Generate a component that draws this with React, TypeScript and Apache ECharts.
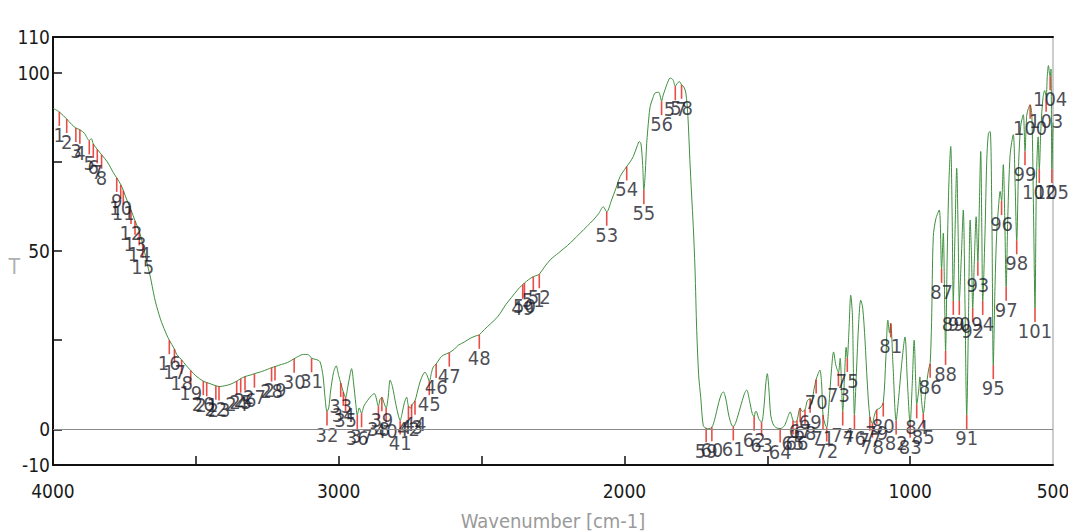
import React, { useEffect, useRef } from "react";
import * as echarts from "echarts";

// ---- Spectrum trace, [wavenumber (cm-1), T (%)] ----
const spectrumOH: [number, number][] = [
  [4000, 90], [3978, 89], [3952, 87], [3935, 85.5], [3920, 84.5], [3906, 84], [3890, 83],
  [3873, 81], [3866, 81.5], [3859, 80], [3845, 78.5], [3830, 77], [3810, 75], [3789, 72],
  [3777, 70.5], [3762, 68.5], [3754, 67], [3740, 64], [3727, 61.5], [3713, 58.5], [3698, 55.5],
  [3686, 52], [3672, 47], [3660, 43], [3645, 37], [3637, 34.4], [3620, 30], [3602, 26.5],
  [3593, 25], [3575, 22.5], [3567, 21], [3550, 19.5], [3535, 18], [3518, 16.5], [3500, 15],
  [3474, 13.5], [3450, 12.8], [3430, 12.2], [3416, 12], [3400, 12.2], [3380, 12.6], [3357, 13.5],
  [3343, 14.2], [3328, 14.8], [3310, 15.2], [3295, 15.6], [3270, 16.2], [3250, 16.8], [3235, 17.3],
  [3223, 17.6], [3200, 18.2], [3180, 18.7], [3156, 19.8], [3140, 20.5], [3124, 21], [3110, 21],
  [3100, 20.5], [3095, 19.9], [3080, 19.6], [3066, 19],
];
const spectrumCH: [number, number][] = [
  [3055, 15], [3048, 9], [3041, 5], [3035, 6], [3028, 11], [3018, 16], [3009, 17.8], [3000, 15],
  [2993, 13], [2984, 10.5], [2976, 9], [2968, 12], [2960, 15.5], [2955, 17], [2948, 13], [2940, 7],
  [2935, 4], [2928, 6], [2920, 4.5], [2912, 6.5], [2900, 8], [2885, 9.5], [2875, 10], [2861, 6.5],
  [2855, 8.5], [2849, 9], [2842, 7.5], [2834, 6], [2827, 9], [2820, 13.8], [2812, 12], [2800, 7],
  [2790, 3.5], [2785, 2.5], [2778, 4.5], [2770, 7.5], [2762, 9], [2756, 6.5], [2748, 6], [2742, 7],
  [2733, 8], [2720, 12], [2710, 14.5], [2698, 16], [2690, 15], [2683, 13.5], [2675, 16], [2669, 17.5],
  [2659, 18.3], [2645, 20], [2634, 20.8], [2613, 21.5], [2595, 22.5], [2581, 23.6],
];
const spectrumMid: [number, number][] = [
  [2560, 24.5], [2540, 25.5], [2520, 26.2], [2508, 26.5], [2490, 28], [2470, 29.5], [2450, 31],
  [2435, 32.5], [2415, 35], [2395, 37], [2375, 39], [2360, 40.3], [2350, 41], [2335, 42], [2319, 42.8],
  [2305, 43.2], [2298, 43.5], [2280, 45.5], [2260, 47.5], [2230, 49.5], [2200, 51.5], [2180, 53],
  [2155, 55], [2130, 57], [2109, 58.7], [2090, 60.5], [2074, 62.4], [2062, 61], [2045, 64.3],
  [2030, 67.5], [2015, 70.9], [2000, 72.8], [1992, 73.7], [1980, 75], [1969, 76.5], [1955, 79.5],
  [1948, 80.7], [1942, 80], [1936, 74], [1932, 67], [1927, 72], [1922, 80.2], [1915, 87], [1910, 90.5],
  [1900, 93], [1893, 94.3], [1880, 94.5], [1875, 93.5], [1870, 92], [1865, 93.5], [1858, 95.2],
  [1850, 97], [1840, 98.5], [1830, 98], [1822, 96.2], [1815, 97], [1808, 97.5], [1800, 96.6],
  [1792, 96], [1785, 94.3], [1778, 88], [1771, 75.6], [1765, 66], [1759, 56.8], [1753, 45],
  [1747, 27.8], [1740, 15], [1733, 9], [1724, 1],
];
const spectrumFingerprint: [number, number][] = [
  [1714, 0.3], [1705, 0.2], [1694, 0.6], [1685, 2.5], [1670, 7.5], [1660, 10], [1654, 10.5],
  [1645, 8.5], [1635, 4], [1625, 1.2], [1619, 0.8], [1610, 2], [1595, 6], [1580, 10], [1572, 11],
  [1562, 8], [1553, 4.5], [1546, 3.5], [1541, 5], [1537, 4.9], [1530, 3], [1520, 2], [1512, 6],
  [1505, 13], [1500, 15.6], [1495, 12], [1488, 4], [1480, 1.5], [1470, 0.5], [1455, 0.2], [1440, 1],
  [1430, 3], [1420, 4.9], [1410, 2.5], [1403, 2], [1396, 2.5], [1385, 6], [1378, 5], [1368, 5.5],
  [1360, 8], [1350, 8.6], [1345, 7], [1337, 11], [1329, 14], [1322, 15.6], [1316, 16.6], [1310, 13],
  [1305, 4], [1298, 1.5], [1292, 0.5], [1285, 6], [1275, 17], [1268, 21.7], [1260, 18], [1251, 16],
  [1245, 19.9], [1240, 12], [1236, 5], [1230, 14], [1224, 23], [1220, 20], [1214, 28], [1208, 37.6],
  [1202, 32], [1195, 4], [1188, 16], [1180, 30], [1173, 36.2], [1166, 34], [1158, 25], [1150, 13],
  [1141, 3.5], [1132, 1.6], [1125, 4], [1117, 5.5], [1105, 6], [1094, 7.5], [1085, 20], [1078, 30.6],
  [1072, 27], [1068, 29.7], [1060, 18], [1049, 2.5], [1040, 9], [1030, 18], [1018, 25.9], [1010, 14],
  [1000, 1.6], [993, 12], [986, 25], [980, 12], [977, 7], [970, 11], [966, 14.7], [960, 8], [954, 4.4],
  [945, 11], [935, 17], [930, 18.4],
];
const spectrumLow: [number, number][] = [
  [925, 30], [919, 54], [910, 59], [898, 61.5], [890, 45], [884, 55], [880, 40], [876, 22], [870, 50],
  [864, 70], [858, 79.3], [853, 60], [849, 36], [843, 55], [837, 73.2], [832, 55], [828, 36], [820, 50],
  [814, 61.5], [808, 35], [802, 4], [796, 30], [790, 58.7], [785, 48], [781, 34], [775, 48], [769, 59.6],
  [763, 47], [758, 62], [753, 77.9], [749, 55], [746, 36], [738, 55], [732, 75], [726, 83], [720, 83.5],
  [714, 60], [709, 18], [703, 40], [697, 55], [690, 63], [685, 66.7], [680, 64], [674, 74.2], [669, 60],
  [664, 40], [658, 60], [650, 77], [639, 82.6], [633, 70], [627, 53], [620, 75], [613, 85], [604, 88.2],
  [598, 78], [592, 88], [586, 90], [580, 91], [574, 88], [568, 60], [563, 34], [558, 70], [552, 82],
  [548, 73], [542, 85], [535, 93], [529, 95], [524, 93], [520, 99], [516, 102], [512, 99.5], [510, 99],
  [507, 101], [504, 73], [500, 86],
];

// ---- Peak picks (peak number = position + 1) ----
const peakWavenumbers: number[] = [
  3978, 3952, 3920, 3906, 3873, 3859, 3845, 3830, 3777, 3763, 3754, 3727, 3713, 3698, 3686,
  3593, 3575, 3550, 3518, 3474, 3462, 3430, 3419, 3357, 3343, 3328, 3295, 3235, 3223, 3156, 3095,
  3041, 2993, 2984, 2976, 2935, 2920, 2861, 2849, 2834, 2785, 2756, 2745, 2733, 2683, 2659, 2613,
  2508, 2356, 2350, 2319, 2298, 2062, 1992, 1932, 1870, 1822, 1800,
  1714, 1694, 1619, 1546, 1520, 1455, 1410, 1396, 1385, 1368, 1350, 1329, 1305, 1292, 1251, 1236,
  1220, 1195, 1141, 1132, 1117, 1094, 1068, 1049, 1000, 977, 954, 930,
  890, 876, 849, 828, 802, 781, 763, 746, 709, 680, 664, 627, 598, 580, 563, 548, 524, 510, 504,
];
const peakTransmittance: number[] = [
  89, 87, 84.5, 84, 81, 80, 78.5, 77, 70.5, 68.5, 67, 61.5, 58.5, 55.5, 52,
  25, 22.5, 19.5, 16.5, 13.5, 13.2, 12.2, 12, 13.5, 14.2, 14.8, 15.6, 17.3, 17.6, 19.8, 19.9,
  5, 13, 10.5, 9, 4, 4.5, 6.5, 9, 6, 2.5, 6.5, 7, 8, 13.5, 18.3, 21.5,
  26.5, 40.5, 41, 42.8, 43.5, 61, 73.7, 67, 92, 96.2, 96.6,
  0.3, 0.6, 0.8, 3.5, 2, 0.2, 2.5, 2.5, 6, 5.5, 8.6, 14, 4, 0.5, 16, 5,
  20, 4, 3.5, 1.6, 5.5, 7.5, 29.7, 2.5, 1.6, 7, 4.4, 18.4,
  45, 22, 36, 36, 4, 34, 47, 36, 18, 64, 40, 53, 78, 91, 34, 73, 93, 99, 73,
];

// ---- Axis ticks and labels ----
const xLabelValues = [4000, 3000, 2000, 1000, 500];
const xTickValues = [3500, 3000, 2500, 2000, 1500, 1000];
const yLabelValues = [-10, 0, 50, 100, 110];
const yTickValues = [0, 25, 50, 75, 100];

const FONT =
  "'Noto Sans Condensed', 'DejaVu Sans Condensed', 'Liberation Sans Narrow', 'Noto Sans', 'Liberation Sans', sans-serif";

export default function App() {
  const ref = useRef<HTMLDivElement>(null);
  useEffect(() => {
    document.body.style.margin = "0";
    const styleEl = document.createElement("style");
    styleEl.textContent = "#root svg text { font-stretch: condensed !important; }";
    document.head.appendChild(styleEl);
    const chart = echarts.init(ref.current!, null, { renderer: "svg" });
    const spectrum = [
      ...spectrumOH,
      ...spectrumCH,
      ...spectrumMid,
      ...spectrumFingerprint,
      ...spectrumLow,
    ];
    const peaks = peakWavenumbers.map((w, i) => [w, peakTransmittance[i], i + 1]);
    chart.setOption({
      animation: false,
      backgroundColor: "#ffffff",
      grid: {
        left: 53,
        right: 15,
        top: 37,
        bottom: 67,
        outerBoundsMode: "none",
        containLabel: false,
        show: true,
        borderColor: "#9a9a9a",
        borderWidth: 1,
        backgroundColor: "transparent",
      },
      xAxis: [
        {
          type: "value",
          min: 500,
          max: 4000,
          inverse: true,
          name: "Wavenumber [cm-1]",
          nameLocation: "middle",
          nameGap: 46,
          nameMoveOverlap: false,
          nameTextStyle: { color: "#9a9a9a", fontSize: 20, fontFamily: FONT },
          axisLine: { show: true, onZero: false, lineStyle: { color: "#111", width: 2 } },
          axisTick: {
            show: true,
            inside: true,
            length: 9,
            customValues: xTickValues,
            lineStyle: { color: "#111", width: 1.5 },
          },
          axisLabel: {
            customValues: xLabelValues,
            formatter: (v: number) => String(v),
            margin: 16,
            color: "#1a1a1a",
            fontSize: 19,
            fontFamily: FONT,
          },
          splitLine: { show: false },
        },
        {
          type: "value",
          min: 500,
          max: 4000,
          inverse: true,
          position: "top",
          axisLine: { show: true, onZero: false, lineStyle: { color: "#111", width: 2 } },
          axisTick: { show: false },
          axisLabel: { show: false },
          splitLine: { show: false },
        },
      ],
      yAxis: {
        type: "value",
        min: -10,
        max: 110,
        name: "T",
        nameLocation: "middle",
        nameRotate: 0,
        nameGap: 33,
        nameMoveOverlap: false,
        nameTextStyle: {
          color: "#b0b0b0",
          fontSize: 21,
          fontFamily: FONT,
          verticalAlign: "top",
          lineHeight: 32,
        },
        axisLine: { show: true, onZero: false, lineStyle: { color: "#111", width: 2 } },
        axisTick: {
          show: true,
          inside: true,
          length: 9,
          customValues: yTickValues,
          lineStyle: { color: "#111", width: 1.5 },
        },
        axisLabel: {
          customValues: yLabelValues,
          margin: 3,
          color: "#1a1a1a",
          fontSize: 19,
          fontFamily: FONT,
        },
        splitLine: { show: false },
      },
      series: [
        {
          type: "line",
          data: spectrum,
          showSymbol: false,
          smooth: 0.3,
          lineStyle: { color: "#3f8f3f", width: 1 },
          markLine: {
            silent: true,
            symbol: "none",
            label: { show: false },
            lineStyle: { color: "#8a8a8a", width: 1, type: "solid" },
            data: [{ yAxis: 0 }],
          },
          z: 2,
        },
        {
          type: "scatter",
          data: peaks,
          symbol: "rect",
          symbolSize: [1.6, 14],
          symbolOffset: [0, 7],
          itemStyle: { color: "#e32119" },
          label: {
            show: true,
            position: "bottom",
            distance: 0,
            formatter: (p: any) => String(p.value[2]),
            color: "#1d1d2b",
            fontSize: 20,
            lineHeight: 18,
            fontFamily: FONT,
          },
          labelLayout: { hideOverlap: false },
          z: 3,
        },
      ],
    });
    return () => {
      chart.dispose();
      styleEl.remove();
    };
  }, []);
  return (
    <div
      ref={ref}
      style={{ position: "absolute", left: 0, top: 0, width: 1068, height: 532, background: "#fff" }}
    />
  );
}
